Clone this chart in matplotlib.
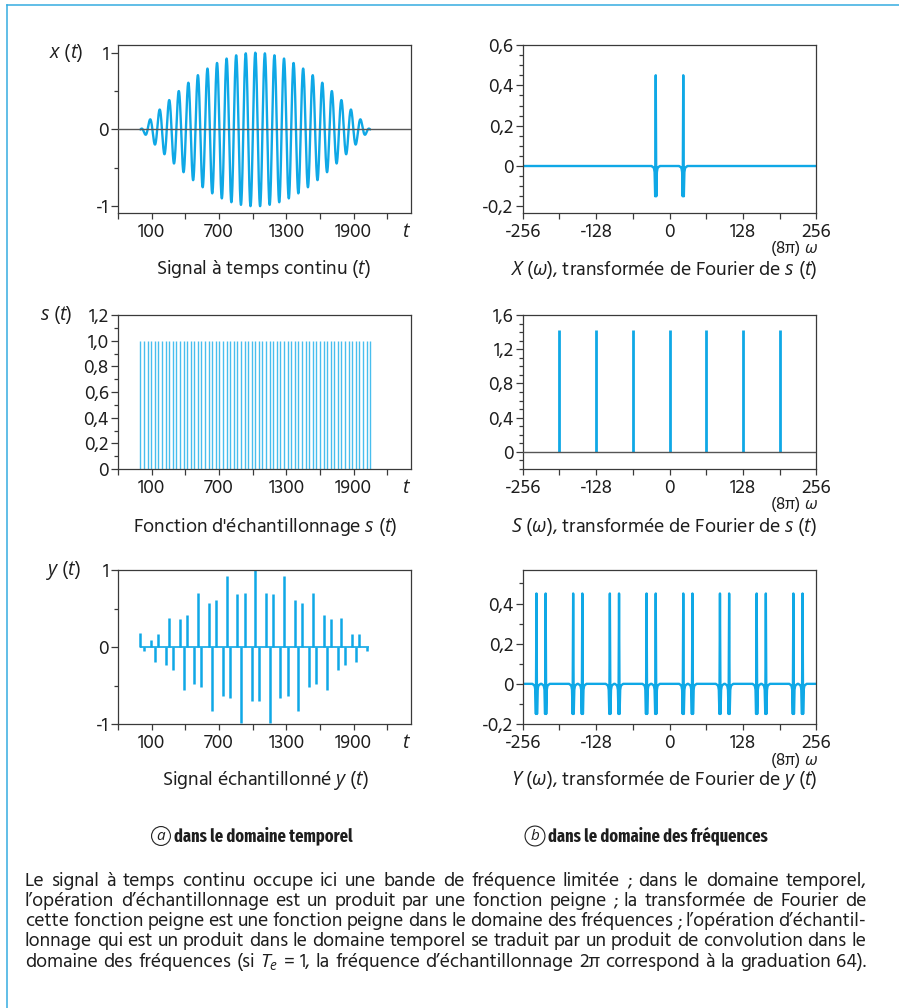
import numpy as np
import matplotlib
matplotlib.use("Agg")
import matplotlib.pyplot as plt
from matplotlib import font_manager
from matplotlib.font_manager import FontProperties
from matplotlib.lines import Line2D
from matplotlib.ticker import FixedLocator, FixedFormatter, NullFormatter

# ------------------------------------------------------------------ data
record_length = 2048      # x(t) lasts from t = 0 to t = 2048
carrier_cycles = 24       # oscillations of x(t) over the record (peaks of X at +-24)
sampling_period = 32      # spacing of the comb s(t) (65 teeth from 0 to 2048)

time_major_ticks = [-200, 100, 400, 700, 1000, 1300, 1600, 1900, 2200]
time_tick_labels = ["", "100", "", "700", "", "1300", "", "1900", ""]
time_limits = (-200, 2412)

freq_major_ticks = [-256, -128, 0, 128, 256]
freq_tick_labels = ["-256", "-128", "0", "128", "256"]
freq_minor_ticks = [-192, -64, 64, 192]
freq_limits = (-256, 256)

# sampled signal y(t) read at each comb tooth (65 values)
y_samples = [0.18, -0.05, 0.0, 0.09, -0.2, 0.172, 0.0, -0.238,
             0.383, -0.302, 0.0, 0.364, -0.556, 0.421, 0.0, -0.475,
             0.707, -0.524, 0.0, 0.568, -0.831, 0.606, 0.0, -0.639,
             0.924, -0.666, 0.0, 0.686, -0.981, 0.699, 0.0, -0.706,
             1.0, -0.706, 0.0, 0.699, -0.981, 0.686, 0.0, -0.666,
             0.924, -0.639, 0.0, 0.606, -0.831, 0.568, 0.0, -0.524,
             0.707, -0.475, 0.0, 0.421, -0.556, 0.364, 0.0, -0.302,
             0.383, -0.238, 0.0, 0.172, -0.2, 0.17, 0.0, -0.05, 0.0]

X_peaks = [-24, 24]
S_peaks = [-192, -128, -64, 0, 64, 128, 192]
S_height = 1.42
Y_peaks = [-232, -216, -168, -152, -104, -88, -40, -24,
           24, 40, 88, 104, 152, 168, 216, 232]
spike_offsets = [-6, -5, -4, -3, -2, -1, 0, 1, 2, 3, 4, 5, 6]
spike_values = [-0.003, -0.0045, -0.007, -0.013, -0.03, -0.15, 0.45,
                -0.15, -0.03, -0.013, -0.007, -0.0045, -0.003]

x_yticks, x_ylabels, x_yminor = [-1, 0, 1], ["-1", "0", "1"], [-0.5, 0.5]
s_yticks = [0, 0.2, 0.4, 0.6, 0.8, 1.0, 1.2]
s_ylabels = ["0", "0,2", "0,4", "0,6", "0,8", "1,0", "1,2"]
s_yminor = [0.1, 0.3, 0.5, 0.7, 0.9, 1.1]
X_yticks = [-0.2, 0, 0.2, 0.4, 0.6]
X_ylabels = ["-0,2", "0", "0,2", "0,4", "0,6"]
X_yminor = [-0.15, -0.1, -0.05, 0.05, 0.1, 0.15, 0.25, 0.3, 0.35, 0.45, 0.5, 0.55]
S_yticks = [0, 0.4, 0.8, 1.2, 1.6]
S_ylabels = ["0", "0,4", "0,8", "1,2", "1,6"]
S_yminor = [-0.2, -0.1, 0.1, 0.2, 0.3, 0.5, 0.6, 0.7, 0.9, 1.0, 1.1, 1.3, 1.4, 1.5]
Y_yticks = [-0.2, 0, 0.2, 0.4]
Y_ylabels = ["-0,2", "0", "0,2", "0,4"]
Y_yminor = [-0.1, 0.1, 0.3, 0.5]

caption_lines = [
    "Le signal à temps continu occupe ici une bande de fréquence limitée ; dans le domaine temporel,",
    "l’opération d’échantillonnage est un produit par une fonction peigne ; la transformée de Fourier de",
    "cette fonction peigne est une fonction peigne dans le domaine des fréquences ; l’opération d’échantil-",
    "lonnage qui est un produit dans le domaine temporel se traduit par un produit de convolution dans le",
    "domaine des fréquences (si $T_e$ = 1, la fréquence d’échantillonnage 2π correspond à la graduation 64).",
]

# ------------------------------------------------------------------ derived series
t_cont = np.linspace(0, record_length, 4097)
x_cont = np.sin(np.pi * t_cont / record_length) * np.cos(2 * np.pi * carrier_cycles * t_cont / record_length)
comb_times = np.arange(0, record_length + 1, sampling_period)

omega = np.arange(freq_limits[0], freq_limits[1] + 1)


def spectrum(peaks):
    vals = np.zeros(len(omega))
    for p in peaks:
        for o, v in zip(spike_offsets, spike_values):
            i = p + o - freq_limits[0]
            if 0 <= i < len(vals):
                vals[i] += v
    return vals


X_vals = spectrum(X_peaks)
Y_vals = spectrum(Y_peaks)

# ------------------------------------------------------------------ fonts
names = {f.name for f in font_manager.fontManager.ttflist}


def first_font(cands, default):
    for c in cands:
        if c in names:
            return c
    return default


MAIN = first_font(["Hind", "Open Sans"], "DejaVu Sans")
ITAL = first_font(["Open Sans"], "DejaVu Sans")
COND = first_font(["Fira Sans Extra Condensed", "Roboto Condensed", "Barlow Condensed",
                   "Fira Sans Condensed", "IBM Plex Sans Condensed"], "Liberation Sans")
BOLD_COND = FontProperties(family=[COND, "DejaVu Sans"], weight="bold")

plt.rcParams["font.family"] = [MAIN, "Open Sans", "DejaVu Sans"]
plt.rcParams["mathtext.fontset"] = "custom"
plt.rcParams["mathtext.rm"] = MAIN
plt.rcParams["mathtext.it"] = ITAL + ":italic"
plt.rcParams["mathtext.bf"] = MAIN + ":bold"

BLUE = "#0FA8E6"
COMB = "#48BEEE"
AXC = "#3a3a3a"
TXT = "#1e1e1e"

W, H = 899, 1008
fig = plt.figure(figsize=(W / 100, H / 100), dpi=100)
fig.patch.set_facecolor("white")
renderer = fig.canvas.get_renderer()


def fit_size(text, target_px, lo, hi, **kw):
    """font size making `text` about target_px wide (as measured on the reference)."""
    probe = fig.text(0, 0, text, fontsize=12, **kw)
    w = probe.get_window_extent(renderer=renderer).width
    probe.remove()
    return max(lo, min(hi, 12 * target_px / w))


FS_TICK = (fit_size("-256", 34, 10.5, 14.5) + fit_size("1900", 38, 10.5, 14.5)
           + fit_size("0,6", 26, 10.5, 14.5)) / 3
FS_TITLE = fit_size("$X$ ($\\omega$), transformée de Fourier de $s$ ($t$)", 308, 11, 15)
FS_SMALL = fit_size("(8π) $\\omega$", 48, 10, 14)


def fx(x):
    return x / W


def fy(y):
    return 1 - y / H


def make_axes(l, t, r, b):
    ax = fig.add_axes([l / W, 1 - b / H, (r - l) / W, (b - t) / H])
    for s in ax.spines.values():
        s.set_color(AXC)
        s.set_linewidth(0.9)
    ax.tick_params(which="both", direction="out", color=AXC, width=0.9,
                   labelsize=FS_TICK, labelcolor=TXT, top=False, right=False)
    ax.tick_params(axis="y", which="major", length=5, pad=1.6)
    ax.tick_params(axis="y", which="minor", length=2.8)
    ax.tick_params(axis="x", which="major", length=4, pad=3.4)
    ax.tick_params(axis="x", which="minor", length=4)
    return ax


def set_yticks(ax, ticks, labels, minor):
    ax.yaxis.set_major_locator(FixedLocator(ticks))
    ax.yaxis.set_major_formatter(FixedFormatter(labels))
    ax.yaxis.set_minor_locator(FixedLocator(minor))
    ax.yaxis.set_minor_formatter(NullFormatter())


def time_axis(ax):
    ax.set_xlim(*time_limits)
    ax.xaxis.set_major_locator(FixedLocator(time_major_ticks))
    ax.xaxis.set_major_formatter(FixedFormatter(time_tick_labels))


def freq_axis(ax):
    ax.set_xlim(*freq_limits)
    ax.xaxis.set_major_locator(FixedLocator(freq_major_ticks))
    ax.xaxis.set_major_formatter(FixedFormatter(freq_tick_labels))
    ax.xaxis.set_minor_locator(FixedLocator(freq_minor_ticks))
    ax.xaxis.set_minor_formatter(NullFormatter())


LX, RX = 118, 411
LF, RF = 522.7, 816.3
rows = [(45, 213), (315, 469), (570, 724)]

# ---- x(t)
ax1 = make_axes(LX, rows[0][0], RX, rows[0][1])
time_axis(ax1)
ax1.set_ylim(-1.087, 1.1)
set_yticks(ax1, x_yticks, x_ylabels, x_yminor)
ax1.plot(t_cont, x_cont, color=BLUE, lw=1.7, solid_capstyle="round")
ax1.axhline(0, color="#555555", lw=1.0, zorder=3)

# ---- X(omega)
ax2 = make_axes(LF, rows[0][0], RF, rows[0][1])
freq_axis(ax2)
ax2.set_ylim(-0.233, 0.6)
set_yticks(ax2, X_yticks, X_ylabels, X_yminor)
ax2.plot(omega, X_vals, color=BLUE, lw=1.7)

# ---- s(t)
ax3 = make_axes(LX, rows[1][0], RX, rows[1][1])
time_axis(ax3)
ax3.set_ylim(0, 1.2)
set_yticks(ax3, s_yticks, s_ylabels, s_yminor)
ax3.vlines(comb_times, 0, 1.0, color=COMB, lw=1.0)

# ---- S(omega)
ax4 = make_axes(LF, rows[1][0], RF, rows[1][1])
freq_axis(ax4)
ax4.set_ylim(-0.2, 1.6)
set_yticks(ax4, S_yticks, S_ylabels, S_yminor)
ax4.vlines(S_peaks, 0, S_height, color=BLUE, lw=2.0)
ax4.axhline(0, color="#555555", lw=1.0, zorder=3)

# ---- y(t)
ax5 = make_axes(LX, rows[2][0], RX, rows[2][1])
time_axis(ax5)
ax5.set_ylim(-1, 1)
set_yticks(ax5, x_yticks, x_ylabels, x_yminor)
ax5.hlines(0, comb_times[0] - 8, comb_times[-1] - 8, color=BLUE, lw=1.2)
ax5.vlines(comb_times, 0, y_samples, color=BLUE, lw=1.8)

# ---- Y(omega)
ax6 = make_axes(LF, rows[2][0], RF, rows[2][1])
freq_axis(ax6)
ax6.set_ylim(-0.2, 0.567)
set_yticks(ax6, Y_yticks, Y_ylabels, Y_yminor)
ax6.plot(omega, Y_vals, color=BLUE, lw=1.7)

# ------------------------------------------------------------------ texts
def ftext(x, y, s, **kw):
    kw.setdefault("fontsize", FS_TITLE)
    kw.setdefault("color", TXT)
    return fig.text(fx(x), fy(y), s, **kw)


# y labels
ftext(66, 53, "$x$ ($t$)", ha="center", va="center")
ftext(56, 315, "$s$ ($t$)", ha="center", va="center")
ftext(63, 571, "$y$ ($t$)", ha="center", va="center")

# t and omega axis labels
for yy in (232, 488, 743):
    ftext(407, yy, "$t$", ha="center", va="center")
for yy in (248, 505, 761):
    ftext(818, yy, "(8π) $\\omega$", ha="right", va="center", fontsize=FS_SMALL)

# titles
ftext(264, 274, "Signal à temps continu ($t$)", ha="center", va="baseline")
ftext(664, 275, "$X$ ($\\omega$), transformée de Fourier de $s$ ($t$)", ha="center", va="baseline")
ftext(265, 531.5, "Fonction d'échantillonnage $s$ ($t$)", ha="center", va="baseline")
ftext(664, 532, "$S$ ($\\omega$), transformée de Fourier de $s$ ($t$)", ha="center", va="baseline")
ftext(265, 785.5, "Signal échantillonné $y$ ($t$)", ha="center", va="baseline")
ftext(664, 785.5, "$Y$ ($\\omega$), transformée de Fourier de $y$ ($t$)", ha="center", va="baseline")

# panel labels (bold condensed)
LAB_FS = min(13.5, 1.12 * fit_size("dans le domaine temporel", 159, 10, 13.5,
                                   fontproperties=BOLD_COND))
circ = dict(boxstyle="circle,pad=0.16", fc="none", ec="#222222", lw=0.8)
ftext(161, 836, "$a$", fontsize=11, ha="center", va="center", bbox=circ)
fig.text(fx(174), fy(841), "dans le domaine temporel", fontproperties=BOLD_COND,
         fontsize=LAB_FS, color=TXT, ha="left", va="baseline")
ftext(535, 836, "$b$", fontsize=11, ha="center", va="center", bbox=circ)
fig.text(fx(548), fy(841), "dans le domaine des fréquences", fontproperties=BOLD_COND,
         fontsize=LAB_FS, color=TXT, ha="left", va="baseline")

# justified caption, font sized so that the longest line fits the measure
x_left, x_right = 25, 866
widest = max(caption_lines, key=len)
CAP_FS = fit_size(widest, (x_right - x_left) * 0.985, 10, 15)

for i, line in enumerate(caption_lines):
    base = 885.5 + 20.3 * i
    words = line.split(" ")
    arts, widths = [], []
    for w in words:
        t = fig.text(0, fy(base), w, fontsize=CAP_FS, color=TXT, ha="left", va="baseline")
        widths.append(t.get_window_extent(renderer=renderer).width)
        arts.append(t)
    gap = (x_right - x_left - sum(widths)) / (len(words) - 1)
    xc = x_left
    for t, w in zip(arts, widths):
        t.set_x(fx(xc))
        xc += w + gap

# blue frame lines
fig.add_artist(Line2D([fx(7.3), 1.0], [fy(5), fy(5)], transform=fig.transFigure,
                      color="#35ACE0", lw=1.1))
fig.add_artist(Line2D([fx(7.3), fx(7.3)], [fy(5), 0.0], transform=fig.transFigure,
                      color="#35ACE0", lw=1.1))

fig.savefig("out.png", dpi=100, facecolor="white")
